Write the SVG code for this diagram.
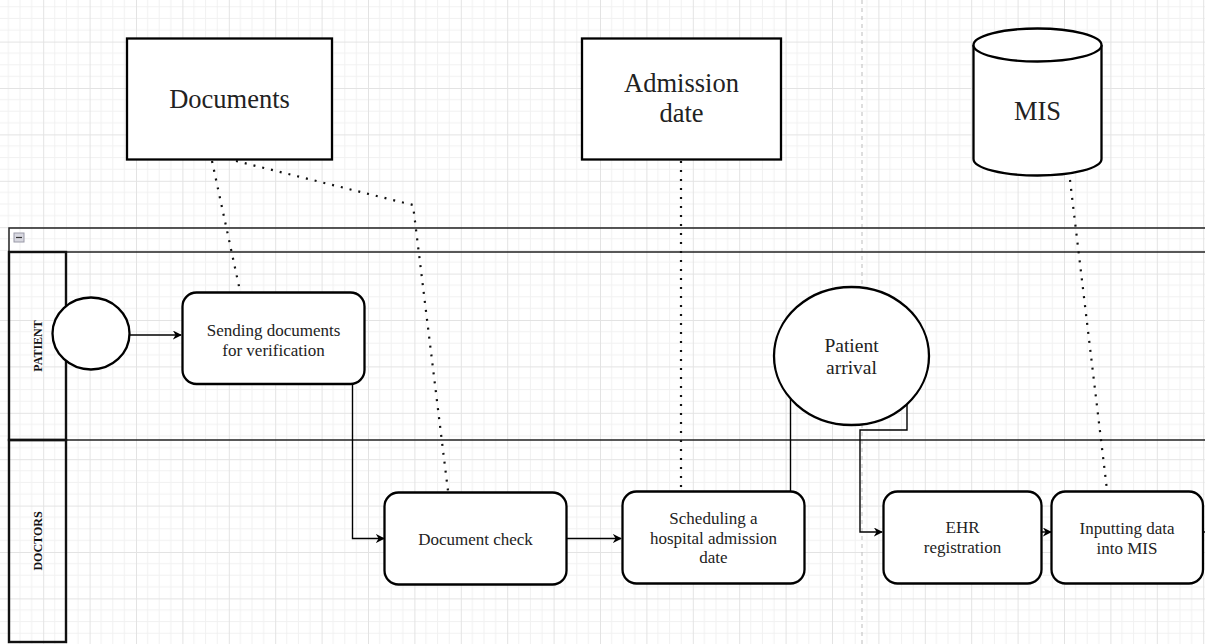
<svg xmlns="http://www.w3.org/2000/svg" width="1205" height="644" viewBox="0 0 1205 644">
<style>
.box{fill:#fff;stroke:#000;stroke-width:2.3}
.txt{fill:#222;text-anchor:middle}
.big{font-size:26.5px}
.mid{font-size:17px}
.lane{font-size:12px;font-weight:bold;fill:#111;text-anchor:middle}
.flow{fill:none;stroke:#000;stroke-width:1.4}
.assoc{fill:none;stroke:#111;stroke-width:2.2;stroke-dasharray:2 7;stroke-linecap:butt}
.pool{fill:none;stroke:#222;stroke-width:1.5}
.lbl{fill:none;stroke:#111;stroke-width:2.4}
</style>
<defs>
<pattern id="grid" patternUnits="userSpaceOnUse" x="-3.2" y="-4.8" width="46.4" height="46.4">
<path d="M11.6 0V46.4M23.2 0V46.4M34.8 0V46.4M0 11.6H46.4M0 23.2H46.4M0 34.8H46.4" stroke="#f1f1f1" stroke-width="1" fill="none"/>
<path d="M0.5 0V46.4M0 0.5H46.4" stroke="#e3e3e3" stroke-width="1" fill="none"/>
</pattern>
<marker id="arr" viewBox="0 0 10 10" refX="9" refY="5" markerWidth="9" markerHeight="9" markerUnits="userSpaceOnUse" orient="auto">
<path d="M0 0L10 5L0 10L3 5Z" fill="#000"/>
</marker>
</defs>
<rect width="1205" height="644" fill="#fff"/>
<rect width="1205" height="644" fill="url(#grid)"/>
<line x1="862" y1="0" x2="862" y2="644" stroke="#bdbdbd" stroke-width="1" stroke-dasharray="4 4"/>

<g font-family="'Liberation Serif', 'Times New Roman', 'DejaVu Serif', serif">
<g id="pool">
<path class="pool" d="M1205 228H9V642M9 252H1205M9 440H1205"/>
<rect x="14" y="233" width="10" height="9" fill="#d8d8e0" stroke="#9a9aa8" stroke-width="1"/>
<line x1="16" y1="237.5" x2="22" y2="237.5" stroke="#333" stroke-width="1.2"/>
</g>
<g id="lane-patient">
<rect class="lbl" x="9" y="252" width="57" height="188"/>
<text class="lane" transform="translate(42 346) rotate(-90)">PATIENT</text>
</g>
<g id="lane-doctors">
<rect class="lbl" x="9" y="440" width="57" height="202"/>
<text class="lane" transform="translate(42 541) rotate(-90)">DOCTORS</text>
</g>

<g id="connectors">
<path class="assoc" d="M212 161L240 291"/>
<path class="assoc" d="M236 161L413 205L448 491"/>
<path class="assoc" d="M681 161V491"/>
<path class="assoc" d="M1070 180L1107 490"/>
<path class="flow" d="M130 335H181" marker-end="url(#arr)"/>
<path class="flow" d="M352.5 384V538.5H384" marker-end="url(#arr)"/>
<path class="flow" d="M567 538.5H621" marker-end="url(#arr)"/>
<path class="flow" d="M790.5 491V399"/>
<path class="flow" d="M907 403V430H860V532H882" marker-end="url(#arr)"/>
<path class="flow" d="M1042 532H1051" marker-end="url(#arr)"/>
<path class="flow" d="M1203 532H1205"/>
</g>

<g id="documents">
<rect class="box" x="127" y="38.5" width="205" height="121"/>
<text class="txt big" x="229.5" y="108">Documents</text>
</g>
<g id="admission-date">
<rect class="box" x="582" y="38.5" width="199" height="121"/>
<text class="txt big" x="681.5" y="92">Admission</text>
<text class="txt big" x="681.5" y="122">date</text>
</g>
<g id="mis">
<path class="box" d="M973.5 45V159A64 16.5 0 0 0 1101.5 159V45"/>
<ellipse class="box" cx="1037.5" cy="45" rx="64" ry="16.5"/>
<text class="txt big" x="1037.5" y="120">MIS</text>
</g>
<g id="start">
<ellipse class="box" cx="91" cy="333.5" rx="38.5" ry="36"/>
</g>
<g id="sending">
<rect class="box" x="182.5" y="292.5" width="182" height="91.5" rx="14"/>
<text class="txt mid" x="273.5" y="336">Sending documents</text>
<text class="txt mid" x="273.5" y="355.5">for verification</text>
</g>
<g id="doc-check">
<rect class="box" x="384.5" y="492.5" width="182" height="92" rx="14"/>
<text class="txt mid" x="475.5" y="545">Document check</text>
</g>
<g id="scheduling">
<rect class="box" x="622.5" y="491.5" width="182" height="92" rx="14"/>
<text class="txt mid" x="713.5" y="523.5">Scheduling a</text>
<text class="txt mid" x="713.5" y="543.5">hospital admission</text>
<text class="txt mid" x="713.5" y="563">date</text>
</g>
<g id="patient-arrival">
<ellipse class="box" cx="851.5" cy="356" rx="77.5" ry="69"/>
<text class="txt" font-size="19.5" x="851.5" y="352">Patient</text>
<text class="txt" font-size="19.5" x="851.5" y="374">arrival</text>
</g>
<g id="ehr">
<rect class="box" x="883.5" y="491.5" width="158" height="92" rx="14"/>
<text class="txt mid" x="962.5" y="533">EHR</text>
<text class="txt mid" x="962.5" y="553">registration</text>
</g>
<g id="inputting">
<rect class="box" x="1051.5" y="491.5" width="151.5" height="92" rx="14"/>
<text class="txt mid" x="1127" y="534">Inputting data</text>
<text class="txt mid" x="1127" y="553.5">into MIS</text>
</g>
</g>
</svg>
